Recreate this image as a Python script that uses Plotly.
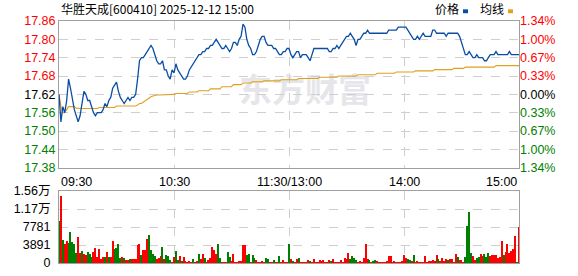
import plotly.graph_objects as go

# ---------------- data ----------------
prev_close = 17.62
minutes = list(range(241))  # 0 = 09:30, 120 = 11:30/13:00, 240 = 15:00

price = [
    17.62, 17.53, 17.58, 17.56, 17.60, 17.67, 17.64, 17.60, 17.57, 17.55,
    17.53, 17.55, 17.59, 17.63, 17.62, 17.60, 17.60, 17.58, 17.56, 17.55,
    17.56, 17.56, 17.56, 17.57, 17.59, 17.58, 17.60, 17.61, 17.64, 17.65,
    17.66, 17.63, 17.61, 17.60, 17.59, 17.60, 17.61, 17.60, 17.61, 17.61,
    17.62, 17.67, 17.73, 17.74, 17.74, 17.75, 17.76, 17.77, 17.78, 17.77,
    17.75, 17.73, 17.72, 17.72, 17.73, 17.70, 17.70, 17.68, 17.67, 17.70,
    17.69, 17.72, 17.70, 17.69, 17.68, 17.67, 17.67, 17.68, 17.70, 17.71,
    17.72, 17.73, 17.74, 17.75, 17.75, 17.76, 17.76, 17.77, 17.77, 17.78,
    17.78, 17.79, 17.80, 17.79, 17.78, 17.77, 17.77, 17.78, 17.77, 17.76,
    17.77, 17.79, 17.79, 17.78, 17.80, 17.81, 17.85, 17.84, 17.80, 17.78,
    17.77, 17.75, 17.75, 17.76, 17.78, 17.80, 17.81, 17.81, 17.79, 17.78,
    17.78, 17.78, 17.77, 17.77, 17.76, 17.75, 17.75, 17.76, 17.76, 17.77,
    17.77, 17.75, 17.74, 17.75, 17.76, 17.76, 17.74, 17.75, 17.75, 17.75,
    17.74, 17.73, 17.75, 17.77, 17.77, 17.77, 17.77, 17.77, 17.77, 17.77,
    17.77, 17.76, 17.76, 17.77, 17.77, 17.78, 17.77, 17.78, 17.79, 17.80,
    17.81, 17.81, 17.82, 17.81, 17.80, 17.78, 17.80, 17.80, 17.81, 17.82,
    17.82, 17.83, 17.82, 17.82, 17.82, 17.82, 17.82, 17.82, 17.82, 17.82,
    17.82, 17.82, 17.83, 17.83, 17.83, 17.83, 17.83, 17.84, 17.84, 17.84,
    17.84, 17.84, 17.83, 17.82, 17.81, 17.80, 17.80, 17.81, 17.80, 17.81,
    17.82, 17.81, 17.81, 17.81, 17.81, 17.83, 17.83, 17.82, 17.82, 17.82,
    17.82, 17.82, 17.81, 17.82, 17.82, 17.82, 17.82, 17.82, 17.82, 17.81,
    17.79, 17.77, 17.75, 17.75, 17.76, 17.75, 17.74, 17.74, 17.75, 17.74,
    17.74, 17.74, 17.73, 17.73, 17.74, 17.75, 17.75, 17.75, 17.76, 17.75,
    17.75, 17.75, 17.75, 17.75, 17.75, 17.76, 17.75, 17.75, 17.75, 17.75,
    17.75,
]

avg_price = [
    17.620, 17.580, 17.560, 17.560, 17.570, 17.580, 17.580, 17.580, 17.580, 17.575,
    17.574, 17.574, 17.574, 17.574, 17.574, 17.574, 17.574, 17.574, 17.574, 17.574,
    17.574, 17.577, 17.577, 17.577, 17.577, 17.577, 17.577, 17.577, 17.577, 17.577,
    17.582, 17.582, 17.582, 17.582, 17.582, 17.582, 17.582, 17.582, 17.582, 17.582,
    17.582, 17.585, 17.590, 17.590, 17.595, 17.600, 17.605, 17.610, 17.612, 17.615,
    17.617, 17.618, 17.618, 17.618, 17.620, 17.620, 17.620, 17.620, 17.620, 17.620,
    17.620, 17.623, 17.623, 17.623, 17.623, 17.623, 17.623, 17.623, 17.628, 17.628,
    17.628, 17.628, 17.628, 17.632, 17.632, 17.632, 17.632, 17.632, 17.632, 17.638,
    17.638, 17.638, 17.638, 17.638, 17.638, 17.645, 17.645, 17.645, 17.645, 17.645,
    17.645, 17.652, 17.652, 17.652, 17.652, 17.652, 17.657, 17.657, 17.657, 17.657,
    17.657, 17.661, 17.661, 17.661, 17.661, 17.661, 17.661, 17.664, 17.664, 17.664,
    17.664, 17.664, 17.664, 17.664, 17.664, 17.664, 17.668, 17.668, 17.668, 17.668,
    17.668, 17.668, 17.668, 17.668, 17.668, 17.672, 17.672, 17.672, 17.672, 17.672,
    17.672, 17.672, 17.672, 17.672, 17.672, 17.672, 17.676, 17.676, 17.676, 17.676,
    17.676, 17.676, 17.676, 17.676, 17.676, 17.676, 17.680, 17.680, 17.680, 17.680,
    17.680, 17.680, 17.680, 17.680, 17.680, 17.680, 17.684, 17.684, 17.684, 17.684,
    17.684, 17.684, 17.684, 17.684, 17.684, 17.684, 17.689, 17.689, 17.689, 17.689,
    17.689, 17.689, 17.689, 17.689, 17.689, 17.689, 17.693, 17.693, 17.693, 17.693,
    17.693, 17.693, 17.693, 17.693, 17.693, 17.693, 17.697, 17.697, 17.697, 17.697,
    17.697, 17.697, 17.697, 17.697, 17.697, 17.697, 17.701, 17.701, 17.701, 17.701,
    17.701, 17.701, 17.701, 17.701, 17.701, 17.701, 17.705, 17.705, 17.705, 17.705,
    17.705, 17.705, 17.709, 17.709, 17.709, 17.709, 17.709, 17.709, 17.709, 17.709,
    17.709, 17.709, 17.709, 17.709, 17.709, 17.709, 17.709, 17.709, 17.714, 17.714,
    17.714, 17.714, 17.714, 17.714, 17.714, 17.714, 17.714, 17.714, 17.714, 17.714,
    17.714,
]

volume = [
    9100, 14400, 5050, 4060, 4770, 4350, 6670, 4560, 4200, 2250,
    5610, 2250, 2670, 1960, 1750, 2460, 1960, 1260, 2460, 3150,
    1260, 2940, 840, 1260, 1260, 2460, 1260, 1260, 4770, 2940,
    3150, 4060, 1050, 1260, 1050, 700, 560, 840, 840, 840,
    840, 3850, 4060, 1750, 2730, 2730, 5260, 5950, 2730, 1960,
    1540, 840, 1050, 1540, 3500, 840, 1750, 1540, 700, 140,
    1260, 2670, 700, 1400, 350, 1260, 350, 140, 350, 140,
    840,
    140, 350, 1960, 840, 1960, 1050, 140, 700, 1050, 3360,
    2730, 1960, 4200, 1050, 140, 140, 140, 2320, 1260, 350,
    1960, 140, 140, 350, 350, 3850, 3850, 1750, 1960, 140,
    1750, 1050, 700, 140, 140, 350, 140, 1050, 840, 140,
    140, 700, 140, 140, 1540, 140, 700, 140, 140,
    4200, 840, 350, 140, 840, 1050, 140, 140, 140, 140,
    700, 350, 140, 840, 140, 140, 700, 350, 700, 140,
    140, 700, 350, 840, 140, 140, 140, 700, 140, 1050,
    840, 2100, 840, 1540, 1050, 700, 140, 350, 140, 1050,
    4200, 840, 700, 140, 350, 700, 350, 140, 140, 140,
    140, 350,
    1400, 1400, 140, 350, 140, 140, 140, 350, 1680, 1050,
    840, 560, 350, 1680, 140, 350, 140, 140, 140, 1400,
    140, 350, 350, 560, 350, 1680, 840, 350, 1050, 350,
    840, 560, 840, 840, 140, 1890, 1260, 560, 560, 140,
    1260, 7930, 11080, 2250, 1400, 560, 1050, 1260, 1890, 1400,
    1890, 1260, 2250, 1400, 1680, 1680, 1680, 1050, 1260, 4770,
    1680, 2460, 4200, 2100, 2670, 2940, 5820, 140, 7720,
]

# 1 = up (red), -1 = down (green)
vol_dir = [
    -1, 1, -1, 1, 1, -1, -1, -1, -1, -1,
    1, 1, -1, 1, 1, -1, -1, -1, 1, 1,
    1, 1, 1, 1, -1, 1, -1, 1, 1, -1,
    -1, -1, -1, 1, -1, 1, 1, -1, 1, 1,
    1, 1, 1, -1, 1, 1, 1, -1, -1, -1,
    -1, 1, 1, 1, -1, 1, -1, -1, -1, 1,
    1, -1, -1, 1, -1, 1, 1, 1, 1, 1,
    -1,
    1, 1, -1, 1, 1, -1, 1, 1, 1, 1,
    1, 1, -1, -1, 1, 1, 1, -1, -1, 1,
    1, 1, 1, 1, 1, 1, 1, -1, -1, 1,
    -1, -1, 1, 1, 1, 1, 1, -1, -1, 1,
    1, -1, 1, 1, -1, 1, 1, 1, 1,
    -1, 1, -1, 1, 1, -1, 1, 1, 1, 1,
    1, -1, 1, 1, 1, 1, 1, 1, 1, 1,
    1, 1, -1, 1, 1, 1, 1, 1, 1, 1,
    1, 1, -1, -1, -1, -1, 1, 1, 1, 1,
    1, 1, -1, 1, -1, -1, 1, 1, 1, 1,
    1, 1,
    1, 1, 1, 1, 1, 1, 1, 1, 1, 1,
    -1, -1, 1, -1, 1, 1, 1, 1, 1, 1,
    1, 1, 1, 1, 1, 1, -1, 1, 1, 1,
    1, -1, 1, 1, 1, 1, -1, 1, 1, 1,
    -1, -1, -1, -1, 1, 1, -1, -1, 1, 1,
    -1, -1, -1, 1, 1, 1, 1, 1, 1, 1,
    -1, 1, 1, 1, 1, 1, 1, -1, 1,
]

price_ticks = [17.38, 17.44, 17.50, 17.56, 17.62, 17.68, 17.74, 17.80, 17.86]
pct_labels = ["1.34%", "1.00%", "0.67%", "0.33%", "0.00%", "0.33%", "0.67%", "1.00%", "1.34%"]
vol_ticks = [0, 3891, 7781, 11672, 15562]
vol_labels = ["0", "3891", "7781", "1.17万", "1.56万"]
time_ticks = [0, 60, 120, 180, 240]
time_labels = ["09:30", "10:30", "11:30/13:00", "14:00", "15:00"]
title_text = "华胜天成[600410] 2025-12-12 15:00"

# ---------------- styling ----------------
RED = "#ff0000"
GREEN = "#008000"
BLUE = "#0a4ea3"
GOLD = "#e0a020"
GRID = "#cfcfcf"
FRAME = "#a0a0a0"
NUMFONT = "Liberation Sans, Arial, Noto Sans CJK SC"


def color_for(v):
    if v > prev_close + 1e-9:
        return RED
    if v < prev_close - 1e-9:
        return GREEN
    return "#000000"


left_text = [f'<span style="color:{color_for(t)}">{t:.2f}</span>' for t in price_ticks]
right_text = [f'<span style="color:{color_for(t)}">{lab}</span>' for t, lab in zip(price_ticks, pct_labels)]
bar_colors = [RED if d > 0 else GREEN for d in vol_dir]

fig = go.Figure()
fig.add_trace(go.Scatter(x=minutes, y=avg_price, mode="lines",
                         line=dict(color=GOLD, width=1.1), xaxis="x", yaxis="y",
                         hoverinfo="skip"))
fig.add_trace(go.Scatter(x=minutes, y=price, mode="lines",
                         line=dict(color=BLUE, width=1.3), xaxis="x", yaxis="y",
                         hoverinfo="skip"))
# invisible trace to activate right axis
fig.add_trace(go.Scatter(x=[minutes[0]], y=[prev_close], mode="markers",
                         marker=dict(opacity=0), xaxis="x", yaxis="y3",
                         hoverinfo="skip"))
fig.add_trace(go.Bar(x=minutes, y=volume, marker=dict(color=bar_colors, line=dict(width=0)),
                     width=0.6, xaxis="x2", yaxis="y2", hoverinfo="skip"))

P_BOT = (270 - 172) / 249
V_TOP = (270 - 196) / 249

axis_common = dict(showline=True, mirror=True, linecolor=FRAME, linewidth=1,
                   zeroline=False, ticks="")

fig.update_layout(
    width=578, height=276,
    margin=dict(l=59, r=59, t=21, b=6),
    paper_bgcolor="white", plot_bgcolor="white",
    showlegend=False,
    bargap=0,
    xaxis=dict(domain=[0, 1], range=[0, 240], anchor="y",
               tickvals=time_ticks[1:4], showticklabels=False,
               showgrid=True, gridcolor=GRID, griddash="dash", gridwidth=1,
               **axis_common),
    yaxis=dict(domain=[P_BOT, 1], range=[17.38, 17.86], anchor="x",
               tickvals=price_ticks, ticktext=left_text,
               showgrid=True, gridcolor=GRID, griddash="dash", gridwidth=1,
               tickfont=dict(family=NUMFONT, size=12.5),
               **axis_common),
    yaxis3=dict(range=[17.38, 17.86], overlaying="y", side="right", anchor="x",
                tickvals=price_ticks, ticktext=right_text, showgrid=False,
                zeroline=False, ticks="", showline=False,
                tickfont=dict(family=NUMFONT, size=12.5)),
    xaxis2=dict(domain=[0, 1], range=[0, 240], anchor="y2",
                tickvals=time_ticks[1:4], showticklabels=False,
                showgrid=True, gridcolor=GRID, griddash="dash", gridwidth=1,
                **axis_common),
    yaxis2=dict(domain=[0, V_TOP], range=[0, 15562], anchor="x2",
                tickvals=vol_ticks, ticktext=vol_labels,
                showgrid=True, gridcolor=GRID, griddash="dash", gridwidth=1,
                tickfont=dict(family=NUMFONT, size=12.5, color="#000"),
                ticklabelstandoff=5,
                **axis_common),
)

annotations = []
# title
annotations.append(dict(text=title_text, xref="paper", yref="paper", x=0, y=1,
                        xanchor="left", yanchor="bottom", yshift=2, showarrow=False,
                        font=dict(family="Noto Sans CJK SC", size=12, color="#000")))
# legend texts
annotations.append(dict(text="价格", xref="paper", yref="paper", x=(433 - 59) / 460, y=1,
                        xanchor="left", yanchor="bottom", yshift=2, showarrow=False,
                        font=dict(family="Noto Sans CJK SC", size=12, color="#000")))
annotations.append(dict(text="均线", xref="paper", yref="paper", x=(478 - 59) / 460, y=1,
                        xanchor="left", yanchor="bottom", yshift=2, showarrow=False,
                        font=dict(family="Noto Sans CJK SC", size=12, color="#000")))
# time labels
for t, lab in zip(time_ticks, time_labels):
    anchor = "left" if t == time_ticks[0] else ("right" if t == time_ticks[-1] else "center")
    annotations.append(dict(text=lab, xref="x", yref="paper", x=t, y=P_BOT,
                            xanchor=anchor, yanchor="top", yshift=-5, showarrow=False,
                            font=dict(family=NUMFONT, size=12.5, color="#000")))
fig.update_layout(annotations=annotations)

shapes = [
    dict(type="rect", xref="paper", yref="paper",
         x0=(463 - 59) / 460, x1=(468 - 59) / 460, y0=(270 - 13) / 249, y1=(270 - 9) / 249,
         fillcolor=BLUE, line=dict(width=0)),
    dict(type="rect", xref="paper", yref="paper",
         x0=(508 - 59) / 460, x1=(513 - 59) / 460, y0=(270 - 13) / 249, y1=(270 - 9) / 249,
         fillcolor=GOLD, line=dict(width=0)),
    # watermark
    dict(type="rect", xref="paper", yref="paper",
         x0=(230 - 59) / 460, x1=(380 - 59) / 460, y0=(270 - 112) / 249, y1=(270 - 78) / 249,
         line=dict(width=0), fillcolor="rgba(0,0,0,0)", layer="below",
         label=dict(text="东方财富", font=dict(family="Noto Sans CJK SC", size=33,
                                              color="#e6e6ea", weight="bold"),
                    textposition="middle center")),
]
fig.update_layout(shapes=shapes)

fig.write_html("out.html")
